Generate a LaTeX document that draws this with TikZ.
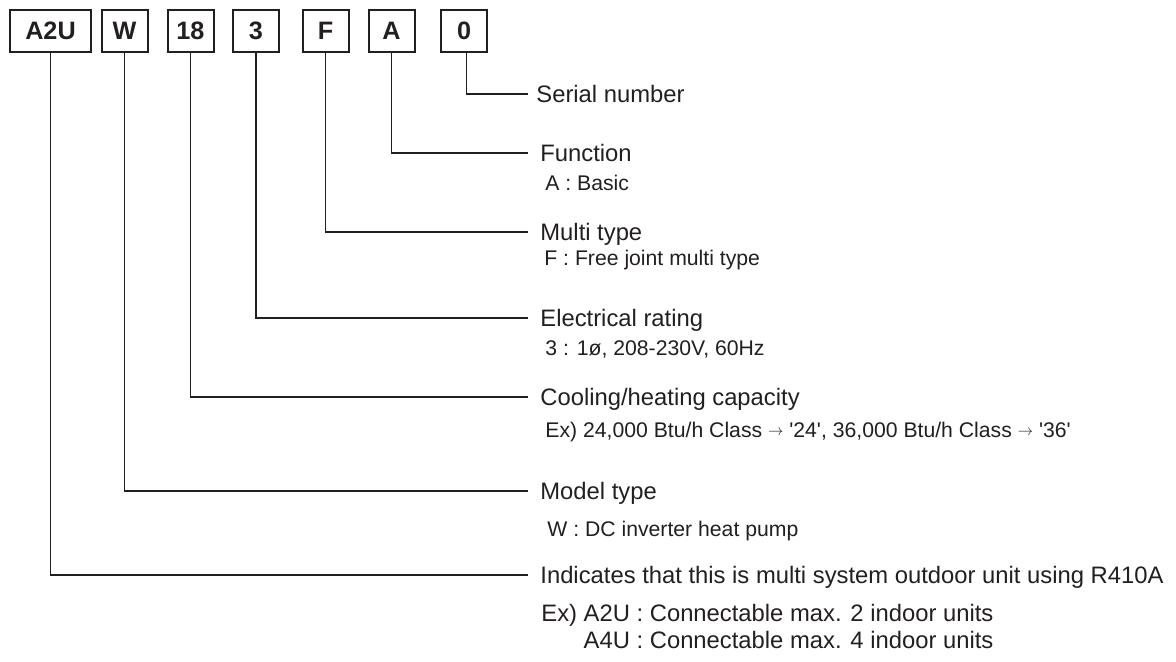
\documentclass[tikz,border=0pt]{standalone}
\usepackage{fontspec}
\setmainfont{Liberation Sans}
\definecolor{ink}{HTML}{231F20}
\newcommand{\arr}{\raisebox{0.15ex}{\scalebox{0.7}{$\rightarrow$}}}
\newcommand{\q}{\textquotesingle}
\begin{document}
\begin{tikzpicture}[x=0.5pt,y=-0.5pt,
  codebox/.style={draw=ink,line width=1pt,minimum height=21pt,minimum width=23pt,inner sep=0pt,text=ink,font=\fontsize{12.6}{14}\selectfont\bfseries},
  lead/.style={draw=ink,line width=0.75pt},
  mainlbl/.style={anchor=base west,inner sep=0pt,text=ink,font=\fontsize{11.9}{13}\selectfont},
  sublbl/.style={anchor=base west,inner sep=0pt,text=ink,font=\fontsize{10.6}{12}\selectfont}]
\useasboundingbox (0,0) rectangle (1176,661);
% code boxes
\node[codebox,minimum width=40.5pt] (bA2U) at (50.5,31) {A2U};
\node[codebox] (bW)  at (124.5,31) {W};
\node[codebox] (b18) at (190.5,31) {18};
\node[codebox] (b3)  at (256,31) {3};
\node[codebox] (bF)  at (325.5,31) {F};
\node[codebox] (bA)  at (391.5,31) {A};
\node[codebox] (b0)  at (464,31) {0};
% line ends
\coordinate (e0) at (528,94);
\coordinate (eA) at (528,153);
\coordinate (eF) at (528,232);
\coordinate (e3) at (528,318);
\coordinate (e18) at (528,397);
\coordinate (eW) at (528,491);
\coordinate (eA2U) at (528,575);
% connectors
\draw[lead] ([xshift=1.3pt]b0.south) |- (e0);
\draw[lead] (bA.south) |- (eA);
\draw[lead] (bF.south) |- (eF);
\draw[lead] (b3.south) |- (e3);
\draw[lead] (b18.south) |- (e18);
\draw[lead] (bW.south) |- (eW);
\draw[lead] (bA2U.south) |- (eA2U);
% labels
\node[mainlbl] (t0) at (536,102.5) {Serial number};
\node[mainlbl] (tA) at (540,161.5) {Function};
\node[sublbl] (sA) at (545,190.5) {A : Basic};
\node[mainlbl] (tF) at (540,240.5) {Multi type};
\node[sublbl] (sF) at (544,265.5) {F : Free joint multi type};
\node[mainlbl] (t3) at (540,326.5) {Electrical rating};
\node[sublbl] (s3) at (545,355.5) {3 : 1ø, 208-230V, 60Hz};
\node[mainlbl] (t18) at (540,405.5) {Cooling/heating capacity};
\node[sublbl] (s18) at (545,437.5) {Ex) 24,000 Btu/h Class \arr{} \q24\q, 36,000 Btu/h Class \arr{} \q36\q};
\node[mainlbl] (tW) at (540,499.5) {Model type};
\node[sublbl] (sW) at (547,536.5) {W : DC inverter heat pump};
\node[mainlbl] (tA2U) at (540,583.5) {Indicates that this is multi system outdoor unit using R410A};
\node[mainlbl] (sA2U) at (541,621.5) {Ex) A2U : Connectable max. 2 indoor units};
\node[mainlbl] (sA4U) at (541,648.5) {\phantom{Ex) }A4U : Connectable max. 4 indoor units};
\end{tikzpicture}
\end{document}
